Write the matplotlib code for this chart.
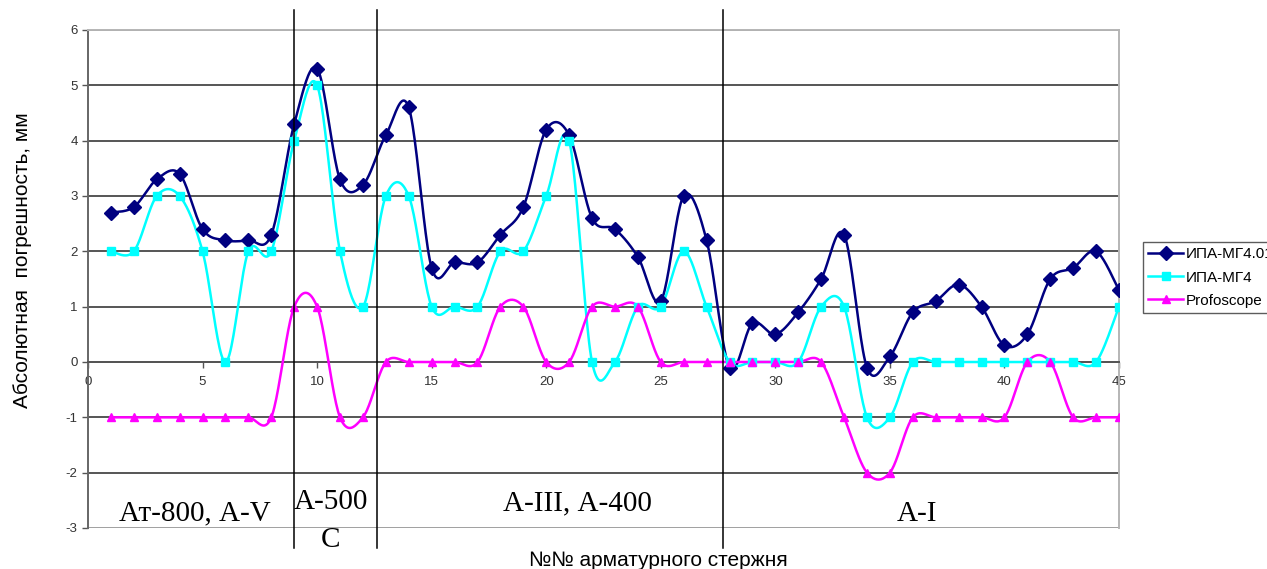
import numpy as np
import matplotlib
matplotlib.use("Agg")
import matplotlib.pyplot as plt
import matplotlib.transforms as mtransforms
from matplotlib.lines import Line2D

# ---------------- DATA ----------------
rod_no = list(range(1, 46))

ipa_mg401 = [2.7, 2.8, 3.3, 3.4, 2.4, 2.2, 2.2, 2.3, 4.3, 5.3,
             3.3, 3.2, 4.1, 4.6, 1.7, 1.8, 1.8, 2.3, 2.8, 4.2,
             4.1, 2.6, 2.4, 1.9, 1.1, 3.0, 2.2, -0.1, 0.7, 0.5,
             0.9, 1.5, 2.3, -0.1, 0.1, 0.9, 1.1, 1.4, 1.0, 0.3,
             0.5, 1.5, 1.7, 2.0, 1.3]

ipa_mg4 = [2, 2, 3, 3, 2, 0, 2, 2, 4, 5,
           2, 1, 3, 3, 1, 1, 1, 2, 2, 3,
           4, 0, 0, 1, 1, 2, 1, 0, 0, 0,
           0, 1, 1, -1, -1, 0, 0, 0, 0, 0,
           0, 0, 0, 0, 1]

profoscope = [-1, -1, -1, -1, -1, -1, -1, -1, 1, 1,
              -1, -1, 0, 0, 0, 0, 0, 1, 1, 0,
              0, 1, 1, 1, 0, 0, 0, 0, 0, 0,
              0, 0, -1, -2, -2, -1, -1, -1, -1, -1,
              0, 0, -1, -1, -1]

series_names = ["ИПА-МГ4.01", "ИПА-МГ4", "Profoscope"]

# rod class borders and group captions
borders = [9.0, 12.6, 27.7]
group_labels = ["Ат-800, А-V", "А-500", "С", "А-III, А-400", "А-I"]


# Excel-like smoothed line: cubic bezier through every point
def smooth(x, y, n=24):
    pts = np.column_stack([x, y]).astype(float)
    t = np.linspace(0, 1, n)[:, None]
    out = []
    for i in range(len(pts) - 1):
        p0 = pts[max(i - 1, 0)]
        p1 = pts[i]
        p2 = pts[i + 1]
        p3 = pts[min(i + 2, len(pts) - 1)]
        c1 = p1 + (p2 - p0) / 6
        c2 = p2 - (p3 - p1) / 6
        seg = ((1 - t) ** 3) * p1 + 3 * ((1 - t) ** 2) * t * c1 \
            + 3 * (1 - t) * t ** 2 * c2 + t ** 3 * p2
        out.append(seg if i == 0 else seg[1:])
    out = np.vstack(out)
    return out[:, 0], out[:, 1]


plt.rcParams["font.family"] = ["Liberation Sans", "DejaVu Sans"]
plt.rcParams["axes.unicode_minus"] = False

fig = plt.figure(figsize=(12.67, 5.69), dpi=100)
ax = fig.add_axes([88 / 1267, 1 - 528 / 569, (1119 - 88) / 1267, (528 - 30) / 569])

ax.set_xlim(0, 45)
ax.set_ylim(-3, 6)

styles = [("#000080", "D", 7), ("#00FFFF", "s", 5.5), ("#FF00FF", "^", 6)]
handles = []
for vals, (col, mk, ms), name in zip([ipa_mg401, ipa_mg4, profoscope], styles, series_names):
    sx, sy = smooth(rod_no, vals)
    ax.plot(sx, sy, color=col, lw=1.8, zorder=3)
    ax.plot(rod_no, vals, ls="none", marker=mk, ms=ms, color=col, zorder=4)
    handles.append(Line2D([], [], color=col, lw=1.8, marker=mk, ms=ms, label=name))

# grid and axes
ax.set_yticks(range(-3, 7))
ax.set_xticks(range(0, 46, 5))
ax.yaxis.grid(True, color="#555555", lw=1.4, zorder=1)
ax.axhline(-3, color="#aaaaaa", lw=1.3, zorder=2)

ax.spines["bottom"].set_position(("data", 0))
ax.spines["bottom"].set_color("#555555")
ax.spines["bottom"].set_linewidth(1.4)
ax.spines["left"].set_color("#666666")
ax.spines["left"].set_linewidth(1.4)
for s in ["top", "right"]:
    ax.spines[s].set_color("#b5b5b5")
    ax.spines[s].set_linewidth(1.4)

ax.tick_params(axis="both", direction="out", length=4, width=1, colors="#555555",
               labelsize=9.5, labelcolor="#333333")
ax.tick_params(axis="x", pad=6)

# vertical borders between rod classes, running past the plot
trans = mtransforms.blended_transform_factory(ax.transData, fig.transFigure)
for bx in borders:
    ax.plot([bx, bx], [1 - 10 / 569, 1 - 548 / 569], color="black", lw=1.1,
            transform=trans, clip_on=False, zorder=5)

serif = ["Liberation Serif", "DejaVu Serif"]
ax.text(4.67, -2.73, group_labels[0], fontsize=21, family=serif, ha="center", va="center")
ax.text(10.6, -2.53, group_labels[1], fontsize=21, family=serif, ha="center", va="center")
ax.text(10.6, -3.22, group_labels[2], fontsize=21, family=serif, ha="center", va="center",
        clip_on=False)
ax.text(21.35, -2.55, group_labels[3], fontsize=21, family=serif, ha="center", va="center")
ax.text(36.2, -2.75, group_labels[4], fontsize=21, family=serif, ha="center", va="center")

fig.text(658 / 1267, 1 - 560 / 569, "№№ арматурного стержня", fontsize=15,
         ha="center", va="center")
fig.text(23 / 1267, 1 - 260 / 569, "Абсолютная  погрешность, мм", fontsize=15,
         rotation=90, ha="center", va="center")

leg = fig.legend(handles=handles, loc="upper left",
                 bbox_to_anchor=(1143 / 1267, 1 - 242 / 569),
                 fontsize=11, frameon=True, fancybox=False, handlelength=2.3,
                 handletextpad=0.15, labelspacing=0.6, borderpad=0.35,
                 borderaxespad=0)
leg.get_frame().set_edgecolor("#333333")
leg.get_frame().set_linewidth(1.0)

fig.savefig("out.png", dpi=100)
